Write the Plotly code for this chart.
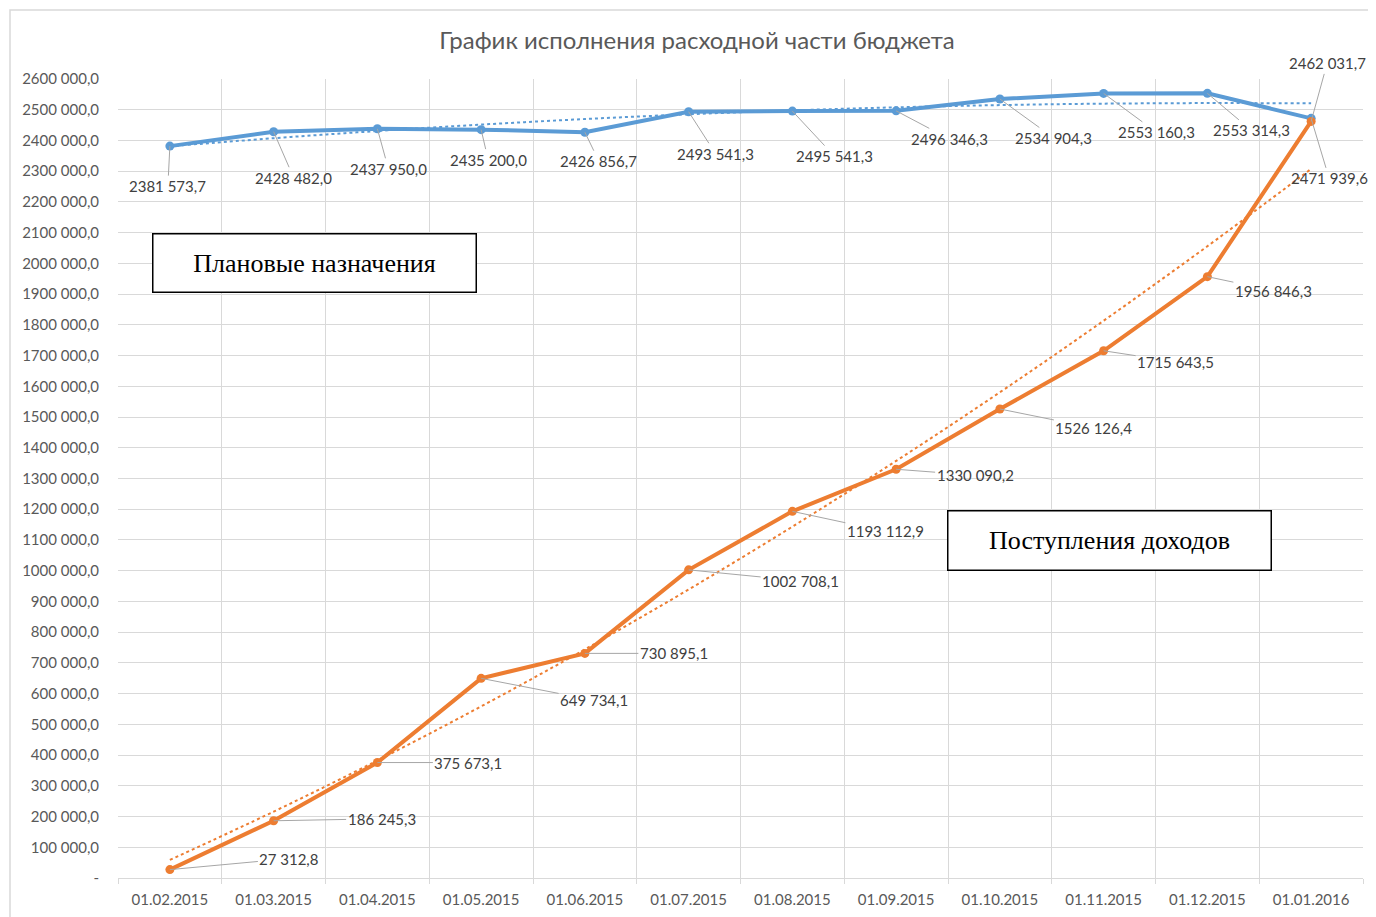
import numpy as np
import plotly.graph_objects as go

dates = ["01.02.2015", "01.03.2015", "01.04.2015", "01.05.2015", "01.06.2015", "01.07.2015",
         "01.08.2015", "01.09.2015", "01.10.2015", "01.11.2015", "01.12.2015", "01.01.2016"]
plan = [2381573.7, 2428482.0, 2437950.0, 2435200.0, 2426856.7, 2493541.3,
        2495541.3, 2496346.3, 2534904.3, 2553160.3, 2553314.3, 2471939.6]
income = [27312.8, 186245.3, 375673.1, 649734.1, 730895.1, 1002708.1,
          1193112.9, 1330090.2, 1526126.4, 1715643.5, 1956846.3, 2462031.7]
y_ticks = list(range(0, 2600001, 100000))

BLUE = "#5B9BD5"
ORANGE = "#ED7D31"
FONT = "Lato"

# 2nd-order polynomial trend lines (as Excel trendlines) computed from the data
idx = np.arange(len(dates))
plan_trend = np.polyval(np.polyfit(idx, plan, 2), idx)
income_trend = np.polyval(np.polyfit(idx, income, 2), idx)


def fmt(v):
    s = f"{v:.1f}"
    ip, dp = s.split(".")
    if len(ip) > 3:
        ip = ip[:-3] + " " + ip[-3:]
    return ip + "," + dp


def fmt_tick(v):
    return "-" if v == 0 else fmt(v)


# label offsets (pixels) for data labels
plan_off = [(-2, 40), (20, 46), (11, 40), (7, 30), (14, 29), (27, 42),
            (42, 45), (53, 28), (54, 39), (53, 39), (44, 37), (18, 60)]
inc_off = [(119, -11), (108, -2), (91, 0), (113, 22), (89, 0), (112, 11),
           (93, 20), (79, 6), (94, 19), (72, 11), (66, 14), (16, -58)]

fig = go.Figure()
fig.add_trace(go.Scatter(x=dates, y=plan, mode="lines+markers", name="Плановые назначения",
                         line=dict(color=BLUE, width=4), marker=dict(size=9, color=BLUE), showlegend=False))
fig.add_trace(go.Scatter(x=dates, y=income, mode="lines+markers", name="Поступления доходов",
                         line=dict(color=ORANGE, width=4), marker=dict(size=9, color=ORANGE), showlegend=False))
fig.add_trace(go.Scatter(x=dates, y=plan_trend, mode="lines",
                         line=dict(color=BLUE, width=2, dash="dot", shape="spline"),
                         showlegend=False, hoverinfo="skip"))
fig.add_trace(go.Scatter(x=dates, y=income_trend, mode="lines",
                         line=dict(color=ORANGE, width=2, dash="dot", shape="spline"),
                         showlegend=False, hoverinfo="skip"))

annotations = []
for series, offs in ((plan, plan_off), (income, inc_off)):
    for d, v, (ax, ay) in zip(dates, series, offs):
        annotations.append(dict(x=d, y=v, xref="x", yref="y", text=fmt(v),
                                showarrow=True, arrowhead=0, arrowwidth=1, arrowcolor="#A6A6A6",
                                ax=ax, ay=ay, font=dict(family=FONT, size=15, color="#404040"),
                                standoff=0))

# text boxes
annotations.append(dict(xref="paper", yref="paper", x=(314 - 118) / 1245, y=(878 - 263) / 799,
                        text="Плановые назначения", showarrow=False,
                        font=dict(family="Liberation Serif", size=26, color="#000000"),
                        bordercolor="#000000", borderwidth=1.5, bgcolor="white",
                        width=320, height=55, xanchor="center", yanchor="middle"))
annotations.append(dict(xref="paper", yref="paper", x=(1109 - 118) / 1245, y=(878 - 540) / 799,
                        text="Поступления доходов", showarrow=False,
                        font=dict(family="Liberation Serif", size=26, color="#000000"),
                        bordercolor="#000000", borderwidth=1.5, bgcolor="white",
                        width=320, height=56, xanchor="center", yanchor="middle"))

# page body has an 8px margin, so the figure is drawn 8px smaller and offset
W, H = 1368, 909
fig.update_layout(
    width=W, height=H,
    margin=dict(l=110, r=13, t=71, b=39),
    paper_bgcolor="white", plot_bgcolor="white",
    title=dict(text="График исполнения расходной части бюджета", x=689 / W, xanchor="center",
               y=1 - 33 / H, yanchor="middle",
               font=dict(family=FONT, size=24, color="#595959")),
    annotations=annotations,
    shapes=[dict(type="rect", xref="paper", yref="paper",
                 x0=(2 - 110) / 1245, x1=1.05, y0=-0.1, y1=1 + (71 - 2) / 799,
                 line=dict(color="#D9D9D9", width=1.5), layer="below")],
)
fig.update_xaxes(type="category", categoryorder="array", categoryarray=dates,
                 tickson="boundaries", showgrid=True, gridcolor="#D9D9D9",
                 gridwidth=1, showline=True, linecolor="#D9D9D9", linewidth=1,
                 ticks="outside", ticklen=5, tickcolor="#D9D9D9", ticklabelstandoff=8,
                 tickfont=dict(family=FONT, size=15, color="#595959"),
                 range=[-0.5, 11.5], zeroline=False, automargin=False)
fig.update_yaxes(range=[0, 2600000], tickvals=y_ticks, ticktext=[fmt_tick(v) for v in y_ticks],
                 showgrid=True, gridcolor="#D9D9D9", gridwidth=1, zeroline=False, showline=False,
                 ticks="", ticklabelstandoff=18, automargin=False,
                 tickfont=dict(family=FONT, size=15, color="#595959"))

fig.write_html("out.html")
